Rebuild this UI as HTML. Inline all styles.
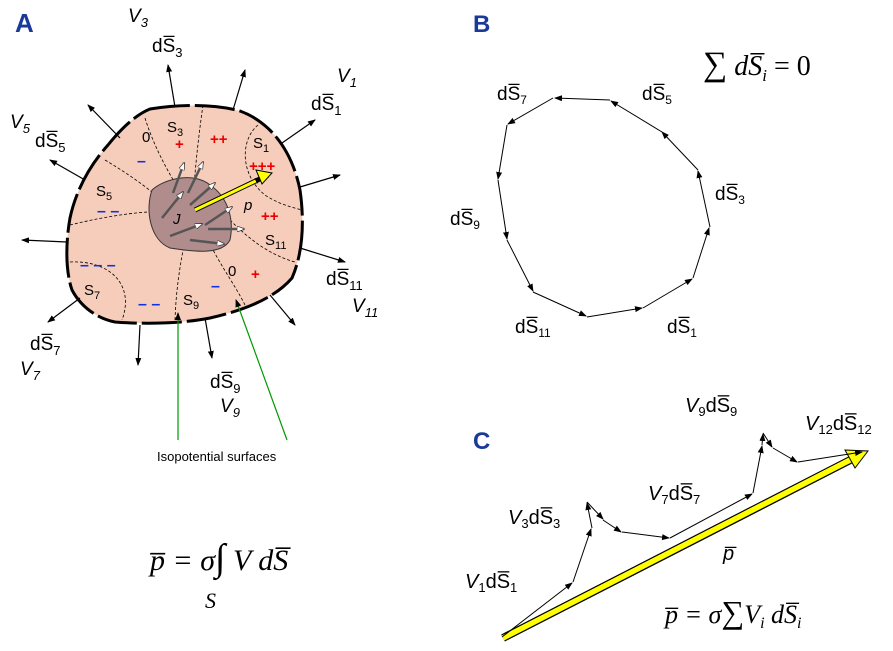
<!DOCTYPE html>
<html><head><meta charset="utf-8"><style>
body{margin:0;background:#fff}
svg text{font-family:"Liberation Sans",sans-serif}
.m{font-family:"Liberation Sans",sans-serif;font-style:italic}
.f{font-family:"Liberation Serif",serif;font-style:italic}
</style></head><body>
<svg width="893" height="646" viewBox="0 0 893 646" xmlns="http://www.w3.org/2000/svg">
<defs>
<marker id="a" markerWidth="8" markerHeight="8" refX="7" refY="3" orient="auto" markerUnits="userSpaceOnUse"><path d="M0,0 L8,3 L0,6z" fill="#000"/></marker>
<marker id="w" markerWidth="8" markerHeight="6" refX="7" refY="3" orient="auto" markerUnits="userSpaceOnUse"><path d="M0,0 L8,3 L0,6z" fill="#fff" stroke="#333" stroke-width=".7"/></marker>
</defs>
<text x="15" y="32" font-size="26" font-weight="bold" fill="#1a3a9a">A</text>
<text x="473" y="32" font-size="24" font-weight="bold" fill="#1a3a9a">B</text>
<text x="473" y="449" font-size="24" font-weight="bold" fill="#1a3a9a">C</text>
<!-- blob -->
<path d="M150,109 C180,104 215,104 240,111 C270,122 292,150 300,190 C305,225 302,255 292,278 C275,298 245,310 210,318 C180,324 140,324 115,322 C95,318 80,305 72,290 C65,270 66,240 70,218 C76,190 90,165 108,145 C120,130 135,115 150,109Z" fill="#f6ccbb" stroke="#000" stroke-width="3" stroke-dasharray="40,5"/>
<g fill="none" stroke="#000" stroke-width=".8" stroke-dasharray="3,2">
<path d="M145,118 C155,150 170,175 185,200"/>
<path d="M203,105 C198,140 195,170 193,200"/>
<path d="M258,125 C240,140 240,175 265,195 C280,205 295,208 302,210"/>
<path d="M105,160 C130,175 160,195 175,215"/>
<path d="M70,225 C110,215 150,210 170,212"/>
<path d="M70,262 C110,260 135,285 122,320"/>
<path d="M175,320 C176,290 180,265 185,240"/>
<path d="M245,305 C235,285 220,265 208,240"/>
<path d="M230,220 C250,240 270,255 295,262"/>
</g>
<path d="M152,190 C165,178 195,172 210,185 C225,195 235,215 230,240 C222,255 195,252 170,248 C150,240 145,210 152,190Z" fill="#b08c8c" stroke="#333"/>
<g stroke="#555" stroke-width="2.5" marker-end="url(#w)">
<line x1="173" y1="193" x2="184" y2="163"/><line x1="188" y1="193" x2="203" y2="162"/>
<line x1="162" y1="218" x2="183" y2="192"/><line x1="190" y1="205" x2="215" y2="183"/>
<line x1="205" y1="225" x2="232" y2="207"/><line x1="170" y1="236" x2="202" y2="224"/>
<line x1="208" y1="229" x2="244" y2="229"/><line x1="190" y1="240" x2="224" y2="244"/>
</g>
<line x1="195" y1="210" x2="268" y2="175" stroke="#000" stroke-width="5"/>
<line x1="195" y1="210" x2="262" y2="178" stroke="#ff0" stroke-width="3" marker-end="url(#a)"/>
<polygon points="256,170 272,173 262,184" fill="#ff0" stroke="#000"/>
<g stroke="#000" stroke-width="1.2" marker-end="url(#a)">
<line x1="175" y1="107" x2="168" y2="65"/><line x1="233" y1="110" x2="245" y2="70"/>
<line x1="282" y1="143" x2="315" y2="120"/><line x1="300" y1="187" x2="340" y2="175"/>
<line x1="300" y1="248" x2="345" y2="262"/><line x1="270" y1="295" x2="295" y2="325"/>
<line x1="205" y1="318" x2="212" y2="358"/><line x1="140" y1="325" x2="138" y2="365"/>
<line x1="80" y1="298" x2="48" y2="322"/><line x1="85" y1="180" x2="50" y2="160"/>
<line x1="120" y1="138" x2="88" y2="105"/><line x1="67" y1="242" x2="22" y2="240"/>
</g>
<g font-size="19">
<text x="128" y="22" class="m">V<tspan font-size="13" dy="5">3</tspan></text>
<text x="152" y="52">dS̅<tspan font-size="13" dy="5">3</tspan></text>
<text x="337" y="82" class="m">V<tspan font-size="13" dy="5">1</tspan></text>
<text x="311" y="110">dS̅<tspan font-size="13" dy="5">1</tspan></text>
<text x="10" y="128" class="m">V<tspan font-size="13" dy="5">5</tspan></text>
<text x="35" y="147">dS̅<tspan font-size="13" dy="5">5</tspan></text>
<text x="326" y="285">dS̅<tspan font-size="13" dy="5">11</tspan></text>
<text x="352" y="312" class="m">V<tspan font-size="13" dy="5">11</tspan></text>
<text x="30" y="350">dS̅<tspan font-size="13" dy="5">7</tspan></text>
<text x="20" y="375" class="m">V<tspan font-size="13" dy="5">7</tspan></text>
<text x="210" y="388">dS̅<tspan font-size="13" dy="5">9</tspan></text>
<text x="220" y="412" class="m">V<tspan font-size="13" dy="5">9</tspan></text>
</g>
<g font-size="15">
<text x="167" y="132">S<tspan font-size="11" dy="4">3</tspan></text>
<text x="253" y="148">S<tspan font-size="11" dy="4">1</tspan></text>
<text x="96" y="196">S<tspan font-size="11" dy="4">5</tspan></text>
<text x="265" y="245">S<tspan font-size="11" dy="4">11</tspan></text>
<text x="84" y="295">S<tspan font-size="11" dy="4">7</tspan></text>
<text x="183" y="305">S<tspan font-size="11" dy="4">9</tspan></text>
<text x="142" y="142">0</text><text x="228" y="276">0</text>
<text x="173" y="224" class="m">J</text><text x="244" y="210" class="m">p</text>
</g>
<g fill="#e00" font-size="15" font-weight="bold">
<text x="175" y="149">+</text><text x="210" y="144">++</text><text x="249" y="171">+++</text>
<text x="261" y="221">++</text><text x="251" y="279">+</text>
</g>
<g fill="#1133dd" font-size="16" font-weight="bold">
<text x="137" y="166">–</text><text x="97" y="216">– –</text><text x="80" y="270">– – –</text>
<text x="138" y="309">– –</text><text x="211" y="291">–</text>
</g>
<g stroke="#090" stroke-width="1.2" marker-end="url(#a)">
<line x1="178" y1="440" x2="178" y2="313"/><line x1="287" y1="440" x2="236" y2="300"/>
</g>
<text x="157" y="461" font-size="13">Isopotential surfaces</text>
<text x="150" y="570" class="f" font-size="30">p̅ = σ<tspan font-style="normal" font-size="38">∫</tspan> V dS̅</text>
<text x="205" y="608" class="f" font-size="22">S</text>
<!-- B -->
<g stroke="#000" stroke-width="1" fill="none" marker-end="url(#a)">
<line x1="610" y1="100" x2="555" y2="98"/><line x1="553" y1="98" x2="508" y2="124"/>
<line x1="507" y1="125" x2="498" y2="179"/><line x1="498" y1="180" x2="507" y2="239"/>
<line x1="507" y1="240" x2="533" y2="291"/><line x1="533" y1="292" x2="586" y2="316"/>
<line x1="587" y1="317" x2="642" y2="308"/><line x1="643" y1="308" x2="692" y2="279"/>
<line x1="693" y1="278" x2="709" y2="228"/><line x1="710" y1="227" x2="698" y2="171"/>
<line x1="698" y1="170" x2="662" y2="132"/><line x1="662" y1="132" x2="611" y2="101"/>
</g>
<g font-size="19">
<text x="497" y="100">dS̅<tspan font-size="12" dy="4">7</tspan></text>
<text x="642" y="100">dS̅<tspan font-size="12" dy="4">5</tspan></text>
<text x="715" y="200">dS̅<tspan font-size="12" dy="4">3</tspan></text>
<text x="450" y="225">dS̅<tspan font-size="12" dy="4">9</tspan></text>
<text x="515" y="333">dS̅<tspan font-size="12" dy="4">11</tspan></text>
<text x="667" y="333">dS̅<tspan font-size="12" dy="4">1</tspan></text>
</g>
<text x="703" y="75" font-size="34" style="font-family:'Liberation Serif',serif">∑<tspan class="f" font-size="28"> dS̅<tspan font-size="17" dy="6">i</tspan></tspan><tspan dy="-6" font-size="28"> = 0</tspan></text>
<!-- C -->
<line x1="503" y1="638" x2="860" y2="455" stroke="#000" stroke-width="8"/>
<line x1="503" y1="638" x2="852" y2="459" stroke="#ff0" stroke-width="5.5"/>
<polygon points="845,450 868,451 855,468" fill="#ff0" stroke="#000"/>
<g stroke="#000" stroke-width="1" fill="none" marker-end="url(#a)">
<line x1="502" y1="637" x2="572" y2="583"/><line x1="573" y1="582" x2="591" y2="529"/>
<line x1="592" y1="528" x2="587" y2="503"/><line x1="587" y1="502" x2="603" y2="519"/>
<line x1="603" y1="520" x2="621" y2="532"/><line x1="622" y1="532" x2="669" y2="538"/>
<line x1="670" y1="538" x2="752" y2="494"/><line x1="753" y1="493" x2="762" y2="446"/>
<line x1="762" y1="445" x2="763" y2="434"/><line x1="763" y1="433" x2="772" y2="447"/>
<line x1="773" y1="448" x2="797" y2="462"/><line x1="798" y1="462" x2="862" y2="452"/>
</g>
<g font-size="20">
<text x="465" y="588"><tspan class="m">V</tspan><tspan font-size="13" dy="4">1</tspan><tspan dy="-4">dS̅</tspan><tspan font-size="13" dy="4">1</tspan></text>
<text x="508" y="524"><tspan class="m">V</tspan><tspan font-size="13" dy="4">3</tspan><tspan dy="-4">dS̅</tspan><tspan font-size="13" dy="4">3</tspan></text>
<text x="648" y="500"><tspan class="m">V</tspan><tspan font-size="13" dy="4">7</tspan><tspan dy="-4">dS̅</tspan><tspan font-size="13" dy="4">7</tspan></text>
<text x="685" y="412"><tspan class="m">V</tspan><tspan font-size="13" dy="4">9</tspan><tspan dy="-4">dS̅</tspan><tspan font-size="13" dy="4">9</tspan></text>
<text x="805" y="430"><tspan class="m">V</tspan><tspan font-size="13" dy="4">12</tspan><tspan dy="-4">dS̅</tspan><tspan font-size="13" dy="4">12</tspan></text>
<text x="723" y="560" class="m">p̅</text>
</g>
<text x="665" y="623" class="f" font-size="26">p̅ = σ<tspan font-style="normal" font-size="32">∑</tspan>V<tspan font-size="16" dy="5">i</tspan><tspan dy="-5"> dS̅</tspan><tspan font-size="16" dy="5">i</tspan></text>
</svg>
</body></html>
